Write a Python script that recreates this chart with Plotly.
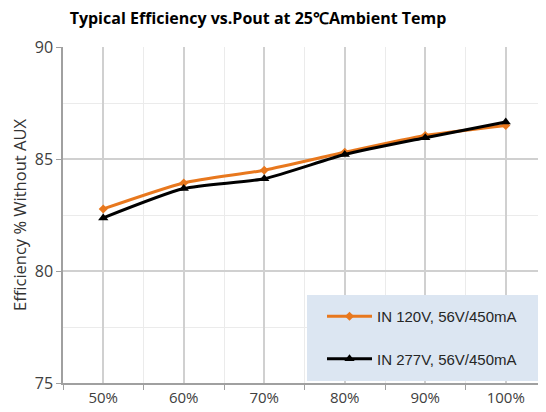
import plotly.graph_objects as go

categories = ["50%", "60%", "70%", "80%", "90%", "100%"]
eff_120v = [82.77, 83.93, 84.5, 85.3, 86.05, 86.5]
eff_277v = [82.37, 83.68, 84.12, 85.2, 85.95, 86.65]
series_names = ["IN 120V, 56V/450mA", "IN 277V, 56V/450mA"]
y_ticks = [75, 80, 85, 90]

xidx = list(range(len(categories)))
bounds = [i - 0.5 for i in range(len(categories) + 1)]

# page offset of 8px (browser body margin) compensated in margins
OFF = 8
L, R, T, B = 63 - OFF, 546, 47 - OFF, 383 - OFF
PW, PH = R - OFF - L, B - T

fig = go.Figure()
fig.add_trace(go.Scatter(
    x=xidx, y=eff_120v, name=series_names[0], mode="lines+markers",
    line=dict(color="#E8781E", width=3, shape="spline", smoothing=0.6),
    marker=dict(symbol="diamond", size=7, color="#E8781E"),
    legendgroup="a"))
fig.add_trace(go.Scatter(
    x=xidx, y=eff_277v, name=series_names[1], mode="lines+markers",
    line=dict(color="#000000", width=3, shape="spline", smoothing=0.6),
    marker=dict(symbol="triangle-up", size=9, color="#000000"),
    legendgroup="b"))

def px_x(p):
    return (p - OFF - L) / PW

def px_y(p):
    return (B - (p - OFF)) / PH

fig.add_shape(type="rect", xref="paper", yref="paper",
              x0=px_x(307), x1=px_x(541), y0=px_y(381), y1=px_y(295),
              fillcolor="#DCE6F2", line=dict(width=0), layer="above")

fig.update_layout(
    width=546, height=412,
    margin=dict(l=L, r=546 - (R - OFF), t=T, b=412 - B),
    paper_bgcolor="white", plot_bgcolor="white",
    title=dict(text="<b>Typical Efficiency vs.Pout at 25℃Ambient Temp</b>",
               x=(258 - OFF) / 546, xanchor="center", y=1 - (18 - OFF) / 412, yanchor="middle",
               font=dict(family="Open Sans", size=16, color="#000000")),
    font=dict(family="Open Sans", size=16, color="#404040"),
    legend=dict(x=px_x(322), y=px_y(300), xanchor="left", yanchor="top",
                bgcolor="rgba(0,0,0,0)", borderwidth=0, tracegroupgap=20,
                traceorder="grouped", itemwidth=45,
                font=dict(family="Liberation Sans", size=15, color="#262626")),
    showlegend=True,
)
fig.update_xaxes(
    range=[-0.5, len(categories) - 0.5], tickvals=xidx, ticktext=categories,
    ticks="", showgrid=True, gridcolor="#D0D0D0", gridwidth=1.5,
    showline=True, linecolor="#A0A0A0", linewidth=1.5, zeroline=False,
    minor=dict(tickvals=bounds, ticks="outside", ticklen=5, tickcolor="#A0A0A0",
               showgrid=True, gridcolor="#EBEBEB", gridwidth=1),
    tickfont=dict(family="Open Sans", size=15, color="#404040"), fixedrange=True)
fig.update_yaxes(
    range=[75, 90], tickvals=y_ticks, ticks="outside", ticklen=5, tickcolor="#A0A0A0",
    showgrid=True, gridcolor="#D0D0D0", gridwidth=1.5,
    showline=True, linecolor="#A0A0A0", linewidth=1.5, zeroline=False,
    minor=dict(dtick=2.5, showgrid=True, gridcolor="#EBEBEB", gridwidth=1),
    title=dict(text="Efficiency % Without AUX", standoff=6,
               font=dict(family="Open Sans", size=16.5, color="#333333")),
    tickfont=dict(family="Open Sans", size=16, color="#404040"), fixedrange=True)

fig.write_html("out.html")
